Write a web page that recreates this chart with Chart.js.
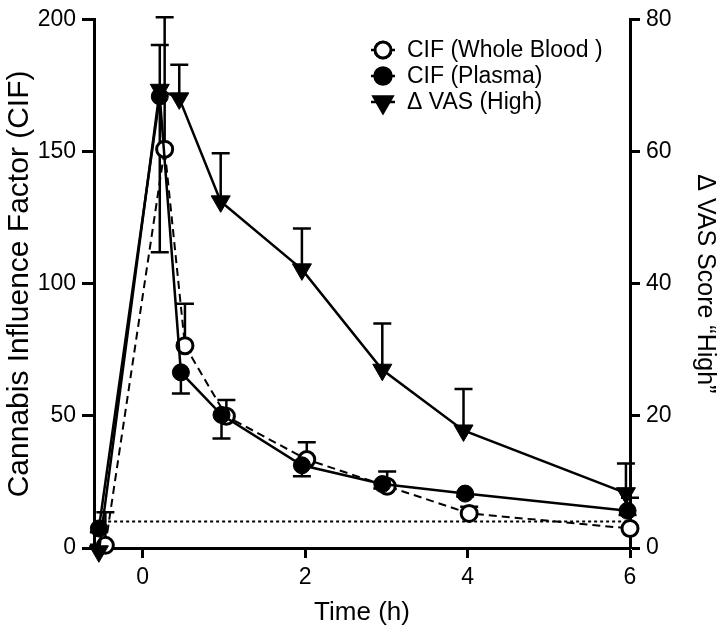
<!DOCTYPE html>
<html>
<head>
<meta charset="utf-8">
<script src="https://cdn.jsdelivr.net/npm/chart.js@4"></script>
<style>
  body { margin: 0; background: #fff; }
  #wrap { width: 720px; height: 642px; }
</style>
</head>
<body>
<div id="wrap"><canvas id="cifChart" width="720" height="642"></canvas></div>
<script>
// plotted time (h) for each series
const wholeBloodTime = [-0.46, 0.27, 0.52, 1.03, 2.02, 3.01, 4.02, 6.0];
const wholeBloodCif = [1, 151, 76.6, 49.9, 33.5, 23.4, 13.1, 7.4];
const wholeBloodErrTop = [13.5, 201, 92.5, 56, 40, 29, 15.6, 19];

const plasmaTime = [-0.54, 0.21, 0.47, 0.97, 1.96, 2.95, 3.97, 5.97];
const plasmaCif = [7.4, 171, 66.5, 50.4, 31.3, 24.2, 20.6, 14.1];
const plasmaErrBottom = [6, 112, 58.5, 41.5, 27.2, 22.5, 19.5, 12.5];

const vasTime = [-0.54, 0.21, 0.45, 0.96, 1.96, 2.95, 3.95, 5.95];
const vasScore = [-0.5, 69.4, 68.1, 52.5, 42.2, 27, 17.8, 8.3];
const vasErrTop = [0.5, 76.2, 73.2, 59.8, 48.4, 34, 24.1, 12.8];

const thresholdTime = [-0.5, 6];
const thresholdCif = [10, 10];

const xTicks = [0, 2, 4, 6];
const legendLabels = ["CIF (Whole Blood )", "CIF (Plasma)", "\u0394 VAS (High)"];

const FONT = "'Liberation Sans', Arial, Helvetica, sans-serif";

function toPoints(xs, ys) {
  return xs.map((x, i) => ({ x: x, y: ys[i] }));
}

// error bars, drawn under the markers
const errorBars = {
  id: "errorBars",
  beforeDatasetsDraw(chart) {
    const ctx = chart.ctx;
    const x = chart.scales.x;
    ctx.save();
    ctx.strokeStyle = "#000";
    ctx.lineWidth = 2.5;
    chart.data.datasets.forEach((ds) => {
      if (!ds.errEnds) return;
      const yScale = chart.scales[ds.yAxisID || "y"];
      ds.data.forEach((p, i) => {
        const px = x.getPixelForValue(p.x);
        const py = yScale.getPixelForValue(p.y);
        const pe = yScale.getPixelForValue(ds.errEnds[i]);
        ctx.beginPath();
        ctx.moveTo(px, py);
        ctx.lineTo(px, pe);
        ctx.moveTo(px - 9, pe);
        ctx.lineTo(px + 9, pe);
        ctx.stroke();
      });
    });
    ctx.restore();
  },
};

// legend inside the plot, line with marker then label
const plotLegend = {
  id: "plotLegend",
  afterDraw(chart) {
    const ctx = chart.ctx;
    const rows = [
      { ds: chart.data.datasets[2], y: 50 },
      { ds: chart.data.datasets[1], y: 76 },
      { ds: chart.data.datasets[0], y: 102 },
    ];
    ctx.save();
    ctx.font = "23px " + FONT;
    ctx.textBaseline = "middle";
    ctx.fillStyle = "#000";
    rows.forEach((r, i) => {
      const cx = 383;
      ctx.strokeStyle = "#000";
      ctx.lineWidth = 2.5;
      ctx.setLineDash([]);
      ctx.beginPath();
      ctx.moveTo(cx - 12, r.y);
      ctx.lineTo(cx + 12, r.y);
      ctx.stroke();
      Chart.helpers.drawPoint(ctx, {
        pointStyle: r.ds.pointStyle,
        rotation: r.ds.pointRotation || 0,
        radius: r.ds.pointRadius,
        borderWidth: r.ds.pointBorderWidth || 1,
      }, cx, r.y);
      ctx.fillStyle = r.ds.pointBackgroundColor;
      ctx.lineWidth = r.ds.pointBorderWidth || 1;
      ctx.fill();
      ctx.stroke();
      ctx.fillStyle = "#000";
      ctx.fillText(legendLabels[i], 407, r.y + 1);
    });
    ctx.restore();
  },
};

const ctx = document.getElementById("cifChart").getContext("2d");

const cifChart = new Chart(ctx, {
  type: "line",
  data: {
    datasets: [
      {
        label: legendLabels[2],
        data: toPoints(vasTime, vasScore),
        yAxisID: "y1",
        errEnds: vasErrTop,
        borderColor: "#000",
        borderWidth: 2.5,
        pointStyle: "triangle",
        pointRotation: 180,
        pointRadius: 11,
        pointBorderWidth: 1,
        pointBackgroundColor: "#000",
        pointBorderColor: "#000",
        tension: 0,
        clip: false,
        order: 1,
      },
      {
        label: legendLabels[1],
        data: toPoints(plasmaTime, plasmaCif),
        yAxisID: "y",
        errEnds: plasmaErrBottom,
        borderColor: "#000",
        borderWidth: 2.5,
        pointStyle: "circle",
        pointRadius: 8.5,
        pointBorderWidth: 1,
        pointBackgroundColor: "#000",
        pointBorderColor: "#000",
        tension: 0,
        clip: false,
        order: 2,
      },
      {
        label: legendLabels[0],
        data: toPoints(wholeBloodTime, wholeBloodCif),
        yAxisID: "y",
        errEnds: wholeBloodErrTop,
        borderColor: "#000",
        borderWidth: 2,
        borderDash: [8, 5],
        pointStyle: "circle",
        pointRadius: 8,
        pointBorderWidth: 3,
        pointBackgroundColor: "#fff",
        pointBorderColor: "#000",
        tension: 0,
        clip: false,
        order: 3,
      },
      {
        label: "threshold",
        data: toPoints(thresholdTime, thresholdCif),
        yAxisID: "y",
        borderColor: "#000",
        borderWidth: 2,
        borderDash: [3, 3],
        pointRadius: 0,
        tension: 0,
        order: 4,
      },
    ],
  },
  options: {
    responsive: false,
    animation: false,
    layout: { padding: { top: 18, left: 0, right: 0, bottom: 0 } },
    plugins: {
      legend: { display: false },
      tooltip: { enabled: false },
    },
    scales: {
      x: {
        type: "linear",
        min: -0.6,
        max: 6,
        afterFit: (s) => { s.height = 94; },
        afterBuildTicks: (s) => { s.ticks = xTicks.map((v) => ({ value: v })); },
        ticks: { color: "#000", font: { family: FONT, size: 23 }, padding: 6 },
        grid: { drawOnChartArea: false, tickLength: 10, tickWidth: 3, tickColor: "#000" },
        border: { color: "#000", width: 3 },
        title: {
          display: true,
          text: "Time (h)",
          color: "#000",
          font: { family: FONT, size: 26 },
          padding: { top: 0, bottom: 14 },
        },
      },
      y: {
        position: "left",
        min: 0,
        max: 200,
        afterFit: (s) => { s.width = 94; },
        ticks: { stepSize: 50, color: "#000", font: { family: FONT, size: 23 }, padding: 6 },
        grid: { drawOnChartArea: false, tickLength: 12, tickWidth: 3, tickColor: "#000" },
        border: { color: "#000", width: 3 },
        title: {
          display: true,
          text: "Cannabis Influence Factor (CIF)",
          color: "#000",
          font: { family: FONT, size: 30 },
          padding: { top: 2, bottom: 0 },
        },
      },
      y1: {
        position: "right",
        min: 0,
        max: 80,
        afterFit: (s) => { s.width = 90; },
        ticks: { stepSize: 20, color: "#000", font: { family: FONT, size: 23 }, padding: 6 },
        grid: { drawOnChartArea: false, tickLength: 10, tickWidth: 3, tickColor: "#000" },
        border: { color: "#000", width: 3 },
        title: {
          display: true,
          text: "\u0394 VAS Score \u201cHigh\u201d",
          color: "#000",
          font: { family: FONT, size: 25 },
          padding: { top: 0, bottom: 0 },
        },
      },
    },
  },
  plugins: [errorBars, plotLegend],
});
</script>
</body>
</html>
